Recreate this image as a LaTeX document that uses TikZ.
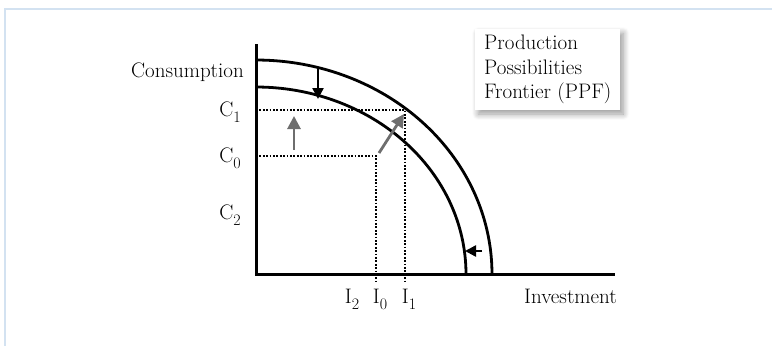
\documentclass[tikz,border=0pt]{standalone}
\usetikzlibrary{arrows.meta,shadows.blur}
\definecolor{framebl}{HTML}{D3E2F1}
\definecolor{arrgray}{HTML}{6E6E6E}
\newcommand{\sbs}[1]{\raisebox{-0.32em}{\fontsize{16}{16}\selectfont #1}}
\tikzset{
  curve/.style={line width=2.8pt,black},
  axis/.style={line width=3pt,black},
  guide/.style={line width=2.2pt,dash pattern=on 1.7pt off 1.7pt,black},
  blackarr/.style={line width=2.4pt,-{Triangle[length=11pt,width=11pt]},black},
  grayarr/.style={line width=2.8pt,-{Triangle[length=13pt,width=13pt]},arrgray},
  lab/.style={font=\fontsize{21}{24}\selectfont,inner sep=0pt},
  ppfbox/.style={fill=white,inner xsep=9pt,inner ysep=6pt,align=left,font=\fontsize{21}{24.5}\selectfont,
    blur shadow={shadow xshift=3pt,shadow yshift=-4pt,shadow blur steps=10,shadow blur radius=6pt}}
}
\begin{document}
\begin{tikzpicture}[x=1pt,y=-1pt]
\useasboundingbox (0,0) rectangle (772,346);
% frame
\draw[framebl,line width=2pt] (5,346) -- (5,9) -- (772,9);
% coordinates
\coordinate (O) at (256,274);
\coordinate (ytop) at (256,44);
\coordinate (xend) at (615,274);
\coordinate (c1a) at (256,110);
\coordinate (c1b) at (405,110);
\coordinate (i1b) at (405,282);
\coordinate (c0a) at (256,156);
\coordinate (c0b) at (376,156);
\coordinate (i0b) at (376,282);
% guides
\draw[guide] (c1a) -- (c1b) -- (i1b);
\draw[guide] (c0a) -- (c0b) -- (i0b);
% curves
\draw[curve] plot[domain=90:0,samples=80] ({256+236*cos(\x)},{274-214*sin(\x)});
\draw[curve] plot[domain=90:0,samples=80] ({256+210*cos(\x)},{274-187*sin(\x)});
% axes
\draw[axis] (ytop) -- (O) -- (xend);
% arrows
\coordinate (da) at (318,69);
\coordinate (db) at (318,99);
\draw[blackarr] (da) -- (db);
\coordinate (la) at (482,251);
\coordinate (lb) at (465,251);
\draw[blackarr] (la) -- (lb);
\coordinate (ua) at (294,150);
\coordinate (ub) at (294,116);
\draw[grayarr] (ua) -- (ub);
\coordinate (ga) at (379,153);
\coordinate (gb) at (404,114);
\draw[grayarr] (ga) -- (gb);
% labels
\node[lab,anchor=east] (cons) at (244,72) {Consumption};
\node[lab,anchor=base east] (lc1) at (241,116) {C\sbs{1}};
\node[lab,anchor=base east] (lc0) at (241,162) {C\sbs{0}};
\node[lab,anchor=base east] (lc2) at (241,219) {C\sbs{2}};
\node[lab,anchor=base] (li2) at (352,303) {I\sbs{2}};
\node[lab,anchor=base] (li0) at (380,303) {I\sbs{0}};
\node[lab,anchor=base] (li1) at (409,303) {I\sbs{1}};
\node[lab,anchor=base east] (inv) at (617,303) {Investment};
\node[ppfbox,anchor=north west] (ppf) at (475,29) {Production\\Possibilities\\Frontier (PPF)};
\end{tikzpicture}
\end{document}
